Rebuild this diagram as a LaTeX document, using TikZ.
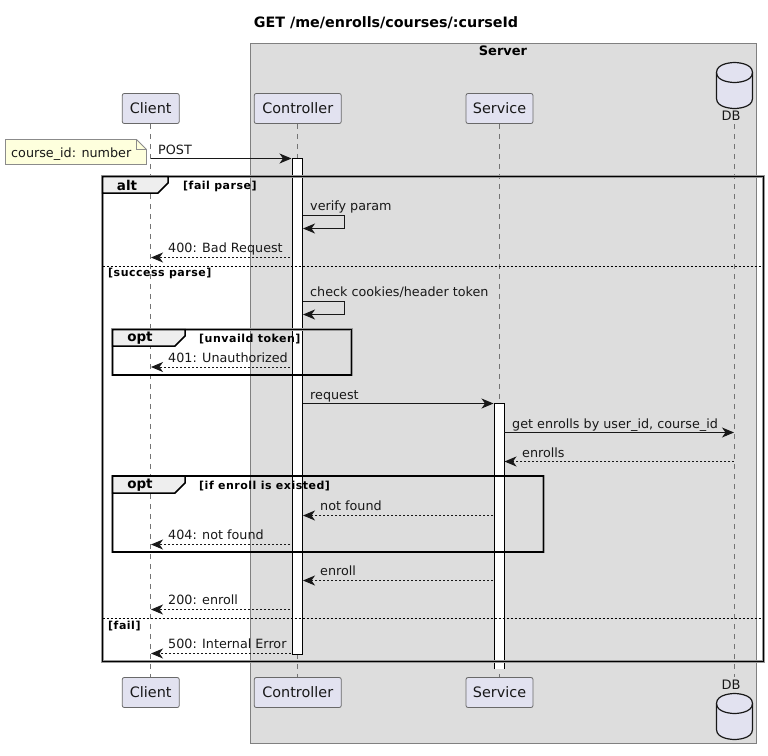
\documentclass[tikz,border=0pt]{standalone}
\usepackage{fontspec}
\setmainfont{DejaVu Sans}
\newfontfamily\guardfont[LetterSpace=4.6]{DejaVu Sans Bold}
\usetikzlibrary{arrows.meta}
\definecolor{boxgray}{HTML}{DDDDDD}
\definecolor{partfill}{HTML}{E2E2F0}
\definecolor{notefill}{HTML}{FEFFDD}
\definecolor{tabfill}{HTML}{EEEEEE}
\definecolor{inkdark}{HTML}{181818}
\tikzset{
	part/.style={draw=inkdark!65,fill=partfill,rounded corners=2,line width=.8,minimum height=30,inner sep=0,text=inkdark,font=\fontsize{14.4}{16}\selectfont},
	msgtext/.style={anchor=base west,inner sep=0,text=inkdark,font=\fontsize{12.75}{15}\selectfont},
	guard/.style={anchor=base west,inner sep=0,font=\fontsize{11}{13}\guardfont},
	tabtext/.style={inner sep=0,font=\fontsize{13.5}{15}\selectfont\bfseries},
	lifeline/.style={draw=inkdark!60,line width=.8,dash pattern=on 5pt off 5pt},
	msg/.style={draw=inkdark,line width=1,-{Stealth[length=12pt,width=10pt,inset=3.5pt]}},
	reply/.style={msg,dash pattern=on 2pt off 2pt},
	bar/.style={fill=white,draw=black,line width=1},
	frame/.style={draw=black,line width=1.5},
	frameshade/.style={draw=black!40,line width=2.6},
	tabshape/.style={draw=black,line width=1.5,fill=tabfill},
	divider/.style={draw=black,line width=1,dash pattern=on 2pt off 2pt},
	drum/.pic={
		\draw[fill=partfill,draw=inkdark,line width=1.2] (-18,10) .. controls (-18,0) and (0,0) .. (0,0) .. controls (0,0) and (18,0) .. (18,10) -- (18,36) .. controls (18,46) and (0,46) .. (0,46) .. controls (0,46) and (-18,46) .. (-18,36) -- cycle;
		\draw[draw=inkdark,line width=1.2] (-18,10) .. controls (-18,20) and (0,20) .. (0,20) .. controls (0,20) and (18,20) .. (18,10);
	}
}
\begin{document}
\begin{tikzpicture}[x=1pt,y=-1pt]
	\useasboundingbox (0,0) rectangle (768,755);

	\node (title) [inner sep=0,font=\fontsize{14.3}{16}\selectfont\bfseries] at (386,23) {GET /me/enrolls/courses/:curseId};

	\draw[fill=boxgray,draw=black!50,line width=1] (250.5,43.5) rectangle (756.5,743.5);
	\node (server) [inner sep=0,font=\fontsize{13}{15}\selectfont\bfseries] at (503,51) {Server};

	% participants, top and bottom
	\node (client) [part,minimum width=57] at (150.75,108.5) {Client};
	\node (ctrl) [part,minimum width=87] at (297.75,108.5) {Controller};
	\node (svc) [part,minimum width=67] at (499.5,108.5) {Service};
	\node (clientb) [part,minimum width=57] at (150.75,692.5) {Client};
	\node (ctrlb) [part,minimum width=87] at (297.75,692.5) {Controller};
	\node (svcb) [part,minimum width=67] at (499.5,692.5) {Service};

	\pic at (734.5,62.5) {drum};
	\pic at (734.5,693.5) {drum};
	\node (dbt) [inner sep=0,text=inkdark,font=\fontsize{13}{15}\selectfont] at (731,116) {DB};
	\node (dbb) [inner sep=0,text=inkdark,font=\fontsize{13}{15}\selectfont] at (731,685) {DB};
	\coordinate (dbla) at (734.5,124);
	\coordinate (dblb) at (734.5,677);

	\draw[lifeline] (client) -- (clientb);
	\draw[lifeline] (ctrl) -- (ctrlb);
	\draw[lifeline] (svc) -- (svcb);
	\draw[lifeline] (dbla) -- (dblb);

	% activation bars
	\draw[bar] (292.5,158.5) rectangle (302.5,654);
	\fill[white] (494,403.5) rectangle (504,669);
	\draw[bar] (494,669) -- (494,403.5) -- (504,403.5) -- (504,669);

	% note
	\draw[fill=notefill,draw=inkdark!50,line width=.8] (5.5,139.5) -- (136.5,139.5) -- (146.5,149.5) -- (146.5,164.5) -- (5.5,164.5) -- cycle;
	\draw[draw=inkdark!50,line width=.8] (136.5,139.5) -- (136.5,149.5) -- (146.5,149.5);
	\node (note) [msgtext] at (11,157) {course\_id: number};

	% frames
	\draw[frameshade] (102.5,176.5) rectangle (763.5,661.5);
	\draw[frameshade] (112.5,329.5) rectangle (351.5,375);
	\draw[frameshade] (112.5,476) rectangle (543.5,552);
	\draw[frame] (102.5,176.5) rectangle (763.5,661.5);
	\draw[tabshape] (102.5,193) -- (158,193) -- (168,183) -- (168,176.5) -- (102.5,176.5) -- cycle;
	\node (alttab) [tabtext] at (127,185) {alt};
	\node (g1) [guard] at (183,189) {[fail parse]};
	\draw[divider] (102.5,266.5) -- (763.5,266.5);
	\node (g2) [guard] at (108,276) {[success parse]};
	\draw[divider] (102.5,618.5) -- (763.5,618.5);
	\node (g3) [guard] at (108,629) {[fail]};

	\draw[frame] (112.5,329.5) rectangle (351.5,375);
	\draw[tabshape] (112.5,346) -- (175,346) -- (185,336) -- (185,329.5) -- (112.5,329.5) -- cycle;
	\node (opttaba) [tabtext] at (140,338) {opt};
	\node (g4) [guard] at (199,342) {[unvaild token]};

	\draw[frame] (112.5,476) rectangle (543.5,552);
	\draw[tabshape] (112.5,493) -- (175,493) -- (185,483) -- (185,476) -- (112.5,476) -- cycle;
	\node (opttabb) [tabtext] at (140,485) {opt};
	\node (g5) [guard] at (199,489) {[if enroll is existed]};

	% messages
	\coordinate (posta) at (151,158.5);
	\coordinate (postb) at (291.5,158.5);
	\draw[msg] (posta) -- (postb);
	\node (post) [msgtext] at (158,154.5) {POST};

	\coordinate (vpa) at (302.5,215.5);
	\coordinate (vpb) at (303,228.5);
	\draw[msg] (vpa) -- (344.5,215.5) -- (344.5,228.5) -- (vpb);
	\node (vp) [msgtext] at (310,210) {verify param};

	\coordinate (m400a) at (290,257.5);
	\coordinate (m400b) at (151,257.5);
	\draw[reply] (m400a) -- (m400b);
	\node (t400) [msgtext] at (168,252) {400: Bad Request};

	\coordinate (cka) at (302.5,301.5);
	\coordinate (ckb) at (303,314.5);
	\draw[msg] (cka) -- (344.5,301.5) -- (344.5,314.5) -- (ckb);
	\node (ck) [msgtext] at (310,296) {check cookies/header token};

	\coordinate (m401a) at (290,367);
	\coordinate (m401b) at (151,367);
	\draw[reply] (m401a) -- (m401b);
	\node (t401) [msgtext] at (168,362) {401: Unauthorized};

	\coordinate (reqa) at (302.5,403.5);
	\coordinate (reqb) at (493.5,403.5);
	\draw[msg] (reqa) -- (reqb);
	\node (req) [msgtext] at (310,399) {request};

	\coordinate (geta) at (504,432.5);
	\coordinate (getb) at (734,432.5);
	\draw[msg] (geta) -- (getb);
	\node (get) [msgtext] at (512,428) {get enrolls by user\_id, course\_id};

	\coordinate (enra) at (734,461.5);
	\coordinate (enrb) at (504.5,461.5);
	\draw[reply] (enra) -- (enrb);
	\node (enr) [msgtext] at (522,457) {enrolls};

	\coordinate (nfa) at (493,515.5);
	\coordinate (nfb) at (303,515.5);
	\draw[reply] (nfa) -- (nfb);
	\node (nf) [msgtext] at (320,510) {not found};

	\coordinate (m404a) at (290,544.5);
	\coordinate (m404b) at (151,544.5);
	\draw[reply] (m404a) -- (m404b);
	\node (t404) [msgtext] at (168,539) {404: not found};

	\coordinate (ena) at (493,580.5);
	\coordinate (enb) at (303,580.5);
	\draw[reply] (ena) -- (enb);
	\node (en) [msgtext] at (320,575) {enroll};

	\coordinate (m200a) at (290,609.5);
	\coordinate (m200b) at (151,609.5);
	\draw[reply] (m200a) -- (m200b);
	\node (t200) [msgtext] at (168,604) {200: enroll};

	\coordinate (m500a) at (291,653.5);
	\coordinate (m500b) at (151,653.5);
	\draw[reply] (m500a) -- (m500b);
	\node (t500) [msgtext] at (168,648) {500: Internal Error};
\end{tikzpicture}
\end{document}
